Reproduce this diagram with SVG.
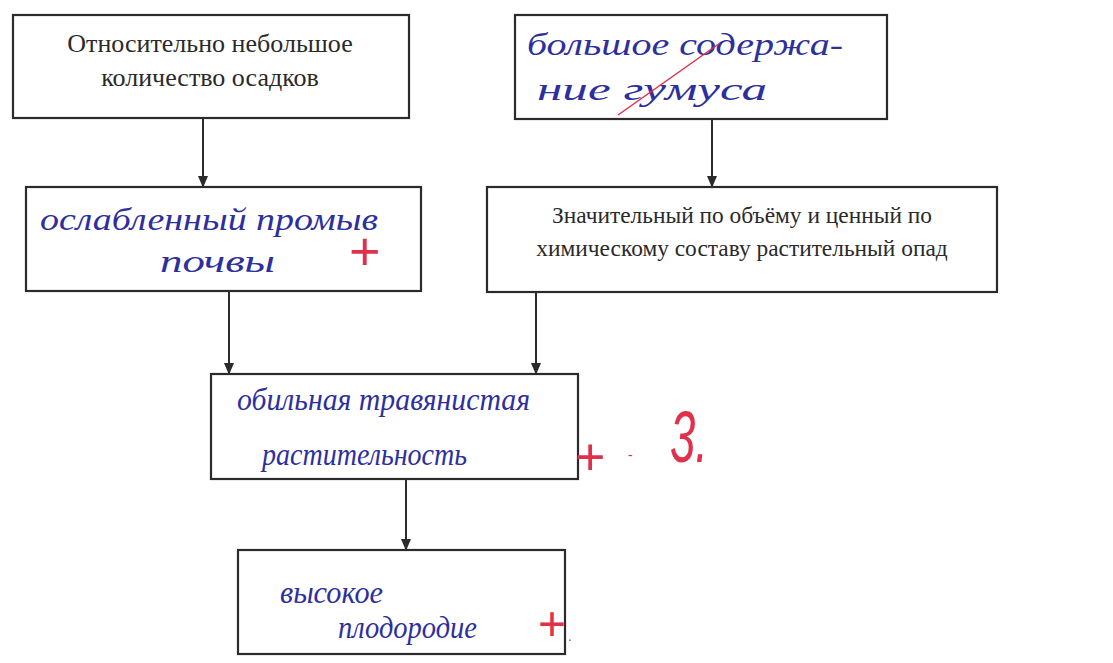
<svg xmlns="http://www.w3.org/2000/svg" width="1113" height="663" viewBox="0 0 1113 663">
<style>
.box{fill:#fff;stroke:#2b2b2b;stroke-width:2.2}
.pr{font-family:"Liberation Serif","Times New Roman",serif;fill:#2a2a2a;text-anchor:middle}
.hw{font-family:"Liberation Serif","Times New Roman",serif;font-style:italic;font-size:31px;fill:#2e2f9e}
.red{font-family:"Liberation Sans",Arial,sans-serif;fill:#e0304a}
.conn{stroke:#2b2b2b;stroke-width:2;fill:none}
</style>
<defs>
<marker id="ad" markerWidth="12" markerHeight="14" refX="12" refY="6" orient="auto" markerUnits="userSpaceOnUse" viewBox="0 0 14 12">
<path d="M0,0 L14,6 L0,12 Z" fill="#2b2b2b"/>
</marker>
</defs>
<rect width="1113" height="663" fill="#fff"/>
<g id="connectors">
<line class="conn" x1="203" y1="118" x2="203" y2="186" marker-end="url(#ad)"/>
<line class="conn" x1="712" y1="119" x2="712" y2="186" marker-end="url(#ad)"/>
<line class="conn" x1="229" y1="291" x2="229" y2="373" marker-end="url(#ad)"/>
<line class="conn" x1="536" y1="292" x2="536" y2="373" marker-end="url(#ad)"/>
<line class="conn" x1="406" y1="479" x2="406" y2="549" marker-end="url(#ad)"/>
</g>
<g id="node-precip">
<rect class="box" x="13" y="15" width="396" height="103"/>
<text class="pr" x="210" y="52" font-size="26">Относительно небольшое</text>
<text class="pr" x="210" y="86" font-size="26">количество осадков</text>
</g>
<g id="node-humus">
<rect class="box" x="515" y="15" width="372" height="104"/>
<text class="hw" x="527" y="55" textLength="316" lengthAdjust="spacingAndGlyphs">большое содержа-</text>
<text class="hw" x="537" y="100" textLength="230" lengthAdjust="spacingAndGlyphs">ние гумуса</text>
<line x1="618" y1="115" x2="720" y2="43" stroke="#e0304a" stroke-width="1.5"/>
</g>
<g id="node-leaching">
<rect class="box" x="26" y="187" width="395" height="104"/>
<text class="hw" x="40" y="230" textLength="338" lengthAdjust="spacingAndGlyphs">ослабленный промыв</text>
<text class="hw" x="160" y="272" textLength="115" lengthAdjust="spacingAndGlyphs">почвы</text>
<text class="red" x="349" y="270" font-size="54" font-weight="300">+</text>
</g>
<g id="node-litter">
<rect class="box" x="487" y="187" width="510" height="105"/>
<text class="pr" x="742" y="223" font-size="23.4">Значительный по объёму и ценный по</text>
<text class="pr" x="742" y="256" font-size="23.4">химическому составу растительный опад</text>
</g>
<g id="node-grass">
<rect class="box" x="211" y="374" width="367" height="105"/>
<text class="hw" x="237" y="410" textLength="293" lengthAdjust="spacingAndGlyphs">обильная травянистая</text>
<text class="hw" x="262" y="465" textLength="205" lengthAdjust="spacingAndGlyphs">растительность</text>
</g>
<g id="grade">
<text class="red" x="575" y="475" font-size="52">+</text>
<text class="red" x="628" y="460" font-size="14">-</text>
<text class="red" x="670" y="462" font-size="72" font-style="italic" textLength="38" lengthAdjust="spacingAndGlyphs">3.</text>
</g>
<g id="node-fertility">
<rect class="box" x="238" y="550" width="327" height="104"/>
<text class="hw" x="280" y="603" textLength="103" lengthAdjust="spacingAndGlyphs">высокое</text>
<text class="hw" x="338" y="638" textLength="139" lengthAdjust="spacingAndGlyphs">плодородие</text>
<text class="red" x="538" y="640" font-size="48">+</text>
<text class="red" x="568" y="641" font-size="14">.</text>
</g>
</svg>
